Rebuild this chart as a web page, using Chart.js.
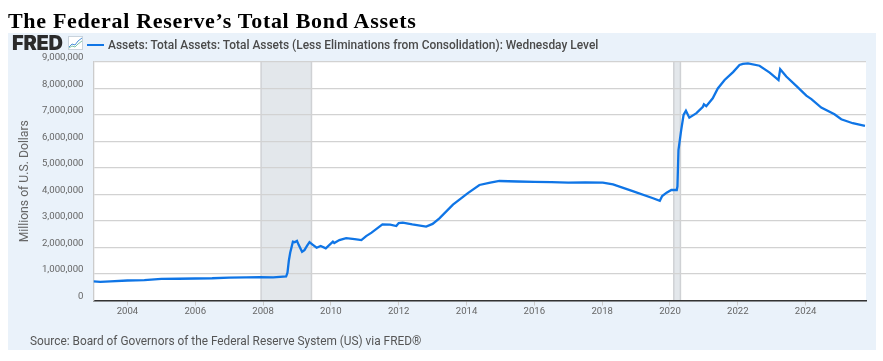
<!DOCTYPE html>
<html>
<head>
<meta charset="utf-8">
<title>The Federal Reserve's Total Bond Assets</title>
<script src="https://cdn.jsdelivr.net/npm/chart.js@4"></script>
<style>
  html, body { margin: 0; padding: 0; background: #fff; }
  body { position: relative; width: 883px; height: 361px; overflow: hidden; }
  #panel { position: absolute; left: 8px; top: 33px; width: 868px; height: 317px; background: #eaf2fa; }
  #chart { position: absolute; left: 0; top: 0; }
  #title { position: absolute; left: 8px; top: 8px; font: bold 22px "Liberation Serif", serif; letter-spacing: 0.7px; color: #000; white-space: nowrap; }
  #logo { position: absolute; left: 12px; top: 31px; font: 900 20px Inter, sans-serif; letter-spacing: -0.3px; color: #2b2b2b; }
  #icon { position: absolute; left: 68px; top: 36px; }
  #legendLine { position: absolute; left: 87px; top: 43.5px; width: 17px; height: 2px; background: #0f75e6; }
  #legendText { position: absolute; left: 108px; top: 38px; font: 500 11.95px Roboto, sans-serif; color: #4a4a4a; white-space: nowrap; }
  #source { position: absolute; left: 30px; top: 334px; font: 11.85px Roboto, sans-serif; color: #555; white-space: nowrap; }
</style>
</head>
<body>
<div id="panel"></div>
<canvas id="chart" width="883" height="361"></canvas>
<div id="title">The Federal Reserve’s Total Bond Assets</div>
<div id="logo">FRED</div>
<svg id="icon" width="15" height="14" viewBox="0 0 15 14">
  <rect x="0.5" y="0.5" width="14" height="13" fill="#fff" stroke="#c9d3dc"/>
  <polyline points="1,11 4,8 7,9 10,5 14,2" fill="none" stroke="#4a90d9" stroke-width="1"/>
  <polyline points="1,12 4,10 7,11 10,8 14,5" fill="none" stroke="#7fc4a8" stroke-width="1"/>
</svg>
<div id="legendLine"></div>
<div id="legendText"></div>
<div id="source">Source: Board of Governors of the Federal Reserve System (US) via FRED®</div>

<script>
const seriesName = 'Assets: Total Assets: Total Assets (Less Eliminations from Consolidation): Wednesday Level';

// 연도는 소수로 (2008.5 = 2008년 중반)
const dates = [
  2003.0, 2003.2, 2003.5, 2004.0, 2004.5, 2005.0, 2005.5, 2006.0, 2006.5, 2007.0, 2007.5, 2007.9, 2008.3, 2008.68,
  2008.72, 2008.76, 2008.8, 2008.88, 2008.93, 2009.0, 2009.05, 2009.15, 2009.22, 2009.3, 2009.37, 2009.45, 2009.58, 2009.7, 2009.85,
  2010.06, 2010.1, 2010.25, 2010.45, 2010.7, 2010.9, 2011.04, 2011.2, 2011.52, 2011.75, 2011.93, 2012.0, 2012.12, 2012.4, 2012.81, 2013.0, 2013.2,
  2013.6, 2014.04, 2014.38, 2014.7, 2014.97, 2015.5, 2016.0, 2016.5, 2017.0, 2017.5, 2018.02, 2018.32, 2018.9, 2019.5, 2019.7,
  2019.77, 2019.9, 2020.04, 2020.2, 2020.22, 2020.25, 2020.33, 2020.4, 2020.47, 2020.57, 2020.78, 2020.97, 2021.0, 2021.07, 2021.26,
  2021.41, 2021.61, 2021.86, 2022.05, 2022.15, 2022.3, 2022.64, 2022.94, 2023.2, 2023.25, 2023.43, 2023.77, 2024.02, 2024.17, 2024.46, 2024.85,
  2025.05, 2025.39, 2025.75
];
const assets = [
  720000, 705000, 725000, 755000, 770000, 815000, 820000, 830000, 840000, 865000, 870000, 885000, 875000, 905000,
  1050000, 1500000, 1800000, 2220000, 2200000, 2250000, 2100000, 1840000, 1900000, 2070000, 2200000, 2120000, 1990000, 2060000, 1970000,
  2220000, 2170000, 2280000, 2350000, 2320000, 2280000, 2430000, 2560000, 2870000, 2860000, 2810000, 2920000, 2940000, 2870000, 2790000, 2890000, 3100000,
  3620000, 4050000, 4360000, 4450000, 4510000, 4490000, 4480000, 4470000, 4450000, 4460000, 4450000, 4380000, 4130000, 3860000, 3760000,
  3940000, 4070000, 4170000, 4170000, 4310000, 5680000, 6430000, 7000000, 7160000, 6900000, 7070000, 7310000, 7400000, 7330000, 7630000,
  8000000, 8320000, 8620000, 8890000, 8930000, 8950000, 8860000, 8600000, 8320000, 8730000, 8450000, 8040000, 7730000, 7600000, 7280000, 7030000,
  6840000, 6690000, 6590000
];

const yearTicks = [2004, 2006, 2008, 2010, 2012, 2014, 2016, 2018, 2020, 2022, 2024];
const valueTicks = [0, 1000000, 2000000, 3000000, 4000000, 5000000, 6000000, 7000000, 8000000, 9000000];
const recessions = [[2007.95, 2009.42], [2020.12, 2020.3]];

document.getElementById('legendText').textContent = seriesName;

// 플롯 배경 + 경기침체 음영 (그리드 아래에 깔림)
const plotBackdrop = {
  id: 'plotBackdrop',
  beforeDraw(chart) {
    const { ctx, chartArea: a, scales: { x } } = chart;
    ctx.save();
    ctx.fillStyle = '#fff';
    ctx.fillRect(a.left, a.top, a.right - a.left, a.bottom - a.top);
    recessions.forEach(([from, to]) => {
      const x0 = x.getPixelForValue(from);
      const x1 = x.getPixelForValue(to);
      ctx.fillStyle = '#e3e7eb';
      ctx.fillRect(x0, a.top, x1 - x0, a.bottom - a.top);
      ctx.fillStyle = '#cfd1d4';
      ctx.fillRect(x0 - 1, a.top, 1.5, a.bottom - a.top);
      ctx.fillRect(x1 - 0.5, a.top, 1.5, a.bottom - a.top);
    });
    ctx.restore();
  },
};

new Chart(document.getElementById('chart').getContext('2d'), {
  type: 'line',
  data: {
    datasets: [{
      label: seriesName,
      data: dates.map((d, i) => ({ x: d, y: assets[i] })),
      borderColor: '#0f75e6',
      borderWidth: 2.3,
      pointRadius: 0,
      tension: 0,
      fill: false,
    }],
  },
  options: {
    responsive: false,
    animation: false,
    layout: { padding: { left: 0, top: 62, right: 17, bottom: 40.5 } },
    plugins: {
      legend: { display: false },
      tooltip: { enabled: false },
    },
    scales: {
      x: {
        type: 'linear',
        min: 2003,
        max: 2025.78,
        afterBuildTicks: (axis) => { axis.ticks = yearTicks.map((v) => ({ value: v })); },
        afterFit: (axis) => { axis.height = 20; },
        border: { color: '#333', width: 1.5 },
        grid: { drawOnChartArea: false, tickLength: 5, tickColor: '#ccc' },
        ticks: {
          autoSkip: false,
          maxRotation: 0,
          padding: 0,
          color: '#666',
          font: { family: 'Roboto', size: 9.6 },
          callback: (v) => String(v),
        },
      },
      y: {
        min: 0,
        max: 9000000,
        afterBuildTicks: (axis) => { axis.ticks = valueTicks.map((v) => ({ value: v })); },
        afterFit: (axis) => { axis.width = 93.5; },
        border: { color: '#ccc', width: 1.3 },
        grid: { color: '#d2d2d2', lineWidth: 1.3, drawTicks: false },
        title: {
          display: true,
          text: 'Millions of U.S. Dollars',
          color: '#666',
          font: { family: 'Roboto', size: 12.2 },
          padding: { top: 18, bottom: 0 },
        },
        ticks: {
          padding: 10,
          labelOffset: -4,
          color: '#666',
          font: { family: 'Roboto', size: 9.6 },
          callback: (v) => v.toLocaleString('en-US'),
        },
      },
    },
  },
  plugins: [plotBackdrop],
});
</script>
</body>
</html>
